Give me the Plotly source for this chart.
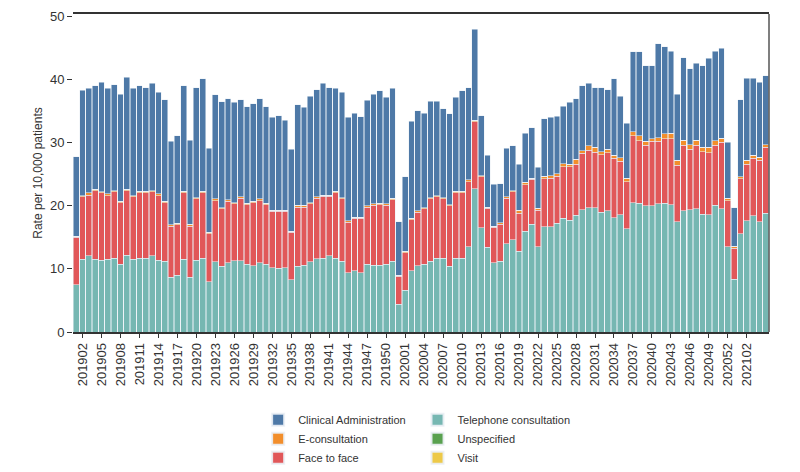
import plotly.graph_objects as go

# ISO weeks shown on the x axis (2019 W01 .. 2021 W05)
weeks = ([f"2019{w:02d}" for w in range(1, 53)]
         + [f"2020{w:02d}" for w in range(1, 54)]
         + [f"2021{w:02d}" for w in range(1, 6)])

tick_labels = ["201902", "201905", "201908", "201911", "201914", "201917", "201920",
               "201923", "201926", "201929", "201932", "201935", "201938", "201941",
               "201944", "201947", "201950", "202001", "202004", "202007", "202010",
               "202013", "202016", "202019", "202022", "202025", "202028", "202031",
               "202034", "202037", "202040", "202043", "202046", "202049", "202052",
               "202102"]

telephone = [7.5, 11.5, 12.1, 11.5, 11.4, 11.5, 11.7, 10.7, 12.2, 11.5,
             11.7, 11.7, 12.1, 11.4, 11.2, 8.7, 9.0, 11.5, 8.7, 11.4,
             11.7, 8.0, 11.1, 10.4, 11.0, 11.3, 11.3, 10.7, 10.5, 11.0,
             10.7, 10.2, 10.1, 10.2, 8.3, 10.4, 10.6, 11.1, 11.6, 11.7,
             12.1, 11.7, 11.2, 9.4, 9.7, 9.4, 10.7, 10.6, 10.6, 10.7,
             11.2, 4.4, 6.6, 9.7, 10.5, 10.7, 11.2, 11.7, 11.7, 10.4,
             11.7, 11.7, 13.5, 22.7, 16.5, 13.4, 11.0, 11.2, 14.0, 14.6,
             12.8, 16.0, 17.1, 13.5, 16.7, 16.7, 17.2, 18.0, 17.7, 18.5,
             19.4, 19.7, 19.7, 19.0, 19.2, 18.1, 18.6, 16.4, 20.5, 20.4,
             20.0, 20.0, 20.3, 20.4, 20.2, 17.5, 19.2, 19.4, 19.5, 18.7,
             18.6, 20.1, 19.5, 13.5, 8.4, 15.6, 17.6, 18.4, 17.5, 18.8]

face_to_face = [7.5, 9.9, 9.6, 10.9, 10.7, 10.1, 10.5, 9.8, 10.2, 9.9,
                10.4, 10.4, 10.1, 10.2, 9.3, 8.1, 8.0, 10.6, 8.1, 9.7,
                10.4, 7.6, 9.7, 9.1, 9.7, 9.0, 9.9, 9.5, 10.0, 9.8,
                9.5, 8.9, 9.0, 8.9, 7.5, 9.4, 9.2, 9.2, 9.6, 9.8,
                9.4, 10.4, 9.9, 8.0, 8.3, 8.6, 9.1, 9.5, 9.6, 9.4,
                9.8, 4.4, 6.0, 8.1, 8.5, 8.8, 9.9, 9.7, 9.4, 9.6,
                10.4, 10.4, 10.3, 10.6, 8.1, 6.2, 5.6, 5.9, 7.2, 7.6,
                6.0, 7.3, 7.1, 5.8, 7.6, 7.7, 7.5, 8.2, 8.5, 8.1,
                8.9, 9.1, 8.8, 9.1, 9.2, 9.4, 8.5, 7.4, 10.6, 9.9,
                9.6, 10.2, 9.9, 10.2, 10.4, 8.9, 10.4, 9.6, 10.1, 9.9,
                9.8, 9.5, 10.6, 7.3, 4.9, 8.7, 9.0, 9.1, 9.7, 10.5]

e_consultation = [0.2, 0.2, 0.4, 0.2, 0.1, 0.3, 0.2, 0.2, 0.2, 0.2,
                  0.2, 0.2, 0.2, 0.3, 0.2, 0.2, 0.2, 0.2, 0.3, 0.2,
                  0.2, 0.2, 0.3, 0.2, 0.3, 0.2, 0.2, 0.2, 0.2, 0.3,
                  0.2, 0.2, 0.2, 0.2, 0.2, 0.3, 0.3, 0.2, 0.2, 0.2,
                  0.2, 0.2, 0.2, 0.2, 0.2, 0.2, 0.2, 0.2, 0.2, 0.2,
                  0.2, 0.2, 0.2, 0.2, 0.2, 0.2, 0.2, 0.2, 0.2, 0.2,
                  0.2, 0.2, 0.3, 0.3, 0.2, 0.2, 0.2, 0.2, 0.2, 0.2,
                  0.5, 0.4, 0.2, 0.3, 0.4, 0.4, 0.4, 0.5, 0.4, 0.8,
                  0.4, 0.7, 0.8, 0.5, 0.6, 0.5, 0.5, 0.6, 0.6, 0.8,
                  0.6, 0.4, 0.6, 0.8, 0.9, 0.8, 0.8, 0.7, 0.8, 0.7,
                  0.9, 0.7, 0.6, 0.4, 0.3, 0.3, 0.6, 0.5, 0.5, 0.4]

clinical_admin = [12.6, 16.7, 16.5, 16.4, 17.4, 16.7, 16.8, 17.0, 17.8, 17.0,
                  16.7, 16.4, 17.0, 16.1, 16.1, 13.2, 13.9, 16.7, 13.3, 17.4,
                  17.8, 13.3, 16.5, 16.8, 16.0, 15.9, 15.4, 15.3, 15.5, 15.9,
                  15.3, 14.7, 15.0, 14.3, 13.0, 15.9, 15.5, 16.9, 17.0, 17.7,
                  17.0, 16.3, 16.7, 16.4, 16.5, 15.9, 16.7, 17.4, 17.8, 16.9,
                  17.4, 8.5, 11.8, 15.4, 15.9, 15.0, 15.3, 15.0, 14.1, 14.4,
                  14.9, 15.9, 14.6, 14.4, 9.5, 8.2, 6.6, 6.2, 7.7, 7.1,
                  7.3, 7.8, 8.0, 6.5, 9.1, 9.2, 9.1, 9.1, 9.8, 9.6,
                  10.3, 9.9, 9.4, 10.1, 9.4, 12.1, 9.8, 8.7, 12.7, 13.3,
                  12.0, 11.6, 14.9, 13.8, 13.0, 10.5, 13.1, 12.0, 12.2, 12.9,
                  14.1, 14.2, 14.3, 8.9, 6.1, 12.2, 13.0, 12.2, 11.9, 10.9]

unspecified = [0.0, 0.0, 0.0, 0.0, 0.0, 0.0, 0.0, 0.0, 0.0, 0.0,
               0.0, 0.0, 0.0, 0.0, 0.0, 0.0, 0.0, 0.0, 0.0, 0.0,
               0.0, 0.0, 0.0, 0.0, 0.0, 0.0, 0.0, 0.0, 0.0, 0.0,
               0.0, 0.0, 0.0, 0.0, 0.0, 0.0, 0.0, 0.0, 0.0, 0.0,
               0.0, 0.0, 0.0, 0.0, 0.0, 0.0, 0.0, 0.0, 0.0, 0.0,
               0.0, 0.0, 0.0, 0.0, 0.0, 0.0, 0.0, 0.0, 0.0, 0.0,
               0.0, 0.0, 0.0, 0.0, 0.0, 0.0, 0.0, 0.0, 0.0, 0.0,
               0.0, 0.0, 0.0, 0.0, 0.0, 0.0, 0.0, 0.0, 0.0, 0.0,
               0.0, 0.0, 0.0, 0.0, 0.0, 0.0, 0.0, 0.0, 0.0, 0.0,
               0.0, 0.0, 0.0, 0.0, 0.0, 0.0, 0.0, 0.0, 0.0, 0.0,
               0.0, 0.0, 0.0, 0.0, 0.0, 0.0, 0.0, 0.0, 0.0, 0.0]

visit = list(unspecified)

FONT = "Liberation Sans, Arial, sans-serif"

series = [
    # name, values, colour, legend, rank
    ("Telephone consultation", telephone, "#76B7B2", "legend2", 1),
    ("Face to face", face_to_face, "#E15759", "legend", 3),
    ("E-consultation", e_consultation, "#F28E2B", "legend", 2),
    ("Unspecified", unspecified, "#59A14F", "legend2", 2),
    ("Visit", visit, "#EDC948", "legend2", 3),
    ("Clinical Administration", clinical_admin, "#4E79A7", "legend", 1),
]

fig = go.Figure()
for name, vals, col, leg, rank in series:
    fig.add_trace(go.Bar(
        x=weeks, y=vals, name=name,
        marker=dict(color=col, line=dict(color="rgba(235,240,245,0.9)", width=0.6)),
        legend=leg, legendrank=rank,
    ))

legend_common = dict(
    orientation="v", traceorder="normal",
    font=dict(family=FONT, size=11, color="#333333"),
    bgcolor="rgba(0,0,0,0)", itemsizing="constant",
    xref="paper", yref="paper", xanchor="left", yanchor="top",
    tracegroupgap=0,
)

# page body adds an 8px margin, so the figure is 8px smaller each way
fig.update_layout(
    width=792, height=464,
    margin=dict(l=65, r=31, t=6, b=140, autoexpand=False),
    paper_bgcolor="white", plot_bgcolor="white",
    barmode="stack", bargap=0.08,
    font=dict(family=FONT, size=12, color="#333333"),
    legend=dict(x=0.266, y=-0.230, **legend_common),
    legend2=dict(x=0.495, y=-0.230, **legend_common),
    xaxis=dict(
        type="category", range=[-0.5, len(weeks) - 0.5],
        tickmode="array", tickvals=tick_labels, ticktext=tick_labels,
        tickangle=-90, ticks="outside", ticklen=4, tickcolor="#333333",
        tickfont=dict(family=FONT, size=13, color="#333333"),
        showline=True, linecolor="#333333", linewidth=1.5, mirror=True,
        showgrid=False, zeroline=False,
    ),
    yaxis=dict(
        range=[0, 50.4], tickvals=[0, 10, 20, 30, 40, 50],
        ticks="outside", ticklen=5, tickcolor="#333333",
        tickfont=dict(family=FONT, size=13, color="#333333"),
        showline=False, showgrid=False, zeroline=False,
        title=dict(text="Rate per 10,000 patients", standoff=4,
                   font=dict(family=FONT, size=12, color="#333333")),
    ),
    shapes=[dict(type="line", xref="paper", yref="paper", x0=1, x1=1, y0=0, y1=1,
                 line=dict(color="#555555", width=1.5))],
)

fig.write_html("out.html")
